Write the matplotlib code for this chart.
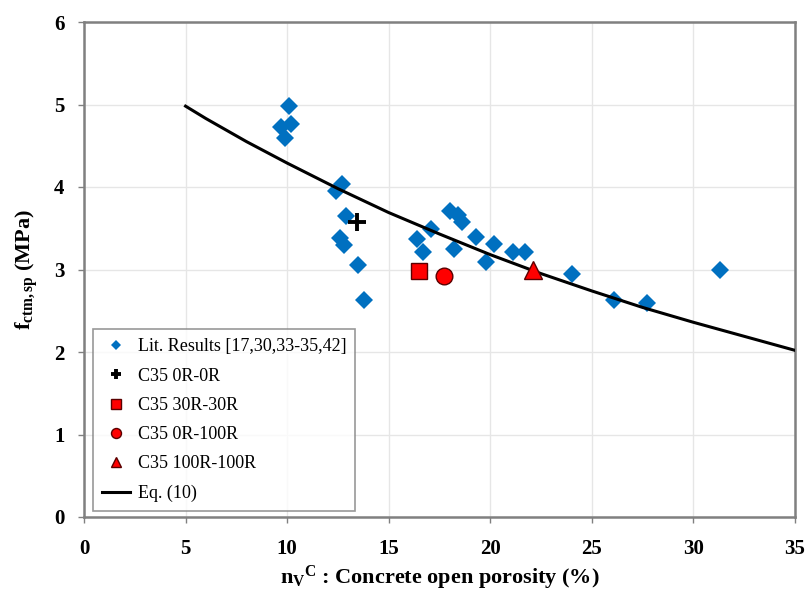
import matplotlib.pyplot as plt
import numpy as np

plt.rcParams['font.family'] = ['Liberation Serif', 'DejaVu Serif']
plt.rcParams['mathtext.fontset'] = 'custom'
plt.rcParams['mathtext.rm'] = 'Liberation Serif'
plt.rcParams['mathtext.it'] = 'Liberation Serif:italic'
plt.rcParams['mathtext.bf'] = 'Liberation Serif:bold'

# literature results (open porosity %, splitting tensile strength MPa)
lit_x = [10.1, 9.7, 10.2, 9.9, 12.4, 12.7, 12.9, 12.6, 12.8, 13.5, 13.8,
         16.4, 16.7, 17.1, 18.0, 18.4, 18.6, 18.2, 19.3, 19.8, 20.2,
         21.1, 21.7, 24.0, 26.1, 27.7, 31.3]
lit_y = [4.98, 4.73, 4.76, 4.60, 3.95, 4.04, 3.65, 3.38, 3.30, 3.05, 2.63,
         3.37, 3.21, 3.49, 3.71, 3.66, 3.58, 3.25, 3.40, 3.09, 3.31,
         3.21, 3.21, 2.95, 2.63, 2.60, 2.99]

# this study
c_00 = (13.45, 3.58)
c_30 = (16.5, 2.98)
c_0100 = (17.7, 2.92)
c_100100 = (22.1, 2.99)

# Eq. (10) curve
eq_x = [5, 6, 7, 8, 9, 10, 12.5, 15, 17.5, 20, 22.5, 25, 27.5, 30, 32.5, 35]
eq_y = [4.98, 4.83, 4.69, 4.55, 4.42, 4.29, 3.98, 3.69, 3.43, 3.18, 2.95,
        2.74, 2.54, 2.36, 2.19, 2.02]

fig = plt.figure(figsize=(8.06, 6.01), dpi=100)
ax = fig.add_axes([84 / 806, 84 / 601, 711 / 806, 495 / 601])

ax.plot(lit_x, lit_y, 'D', color='#0070C0', markersize=9.3, markeredgewidth=0,
        label='Lit. Results [17,30,33-35,42]', zorder=3)
ax.plot(*c_00, '+', color='black', markersize=13, markeredgewidth=2.8,
        label='C35 0R-0R', zorder=5)
ax.plot(*c_30, 's', color='#FF0000', markeredgecolor='#5a0000', markeredgewidth=1,
        markersize=11, label='C35 30R-30R', zorder=5)
ax.plot(*c_0100, 'o', color='#FF0000', markeredgecolor='#5a0000', markeredgewidth=1,
        markersize=12, label='C35 0R-100R', zorder=5)
ax.plot(*c_100100, '^', color='#FF0000', markeredgecolor='#5a0000', markeredgewidth=1,
        markersize=13, label='C35 100R-100R', zorder=5)
ax.plot(eq_x, eq_y, '-', color='black', linewidth=2.2, label='Eq. (10)', zorder=4)

ax.set_xlim(0, 35)
ax.set_ylim(0, 6)
ax.set_xticks(np.arange(0, 36, 5))
ax.set_yticks(np.arange(0, 7, 1))
ax.grid(True, color='#e6e6e6', linewidth=1)
ax.set_axisbelow(True)
for s in ax.spines.values():
    s.set_color('#808080')
    s.set_linewidth(1.8)
ax.tick_params(direction='out', length=4, width=1, color='#808080',
               labelsize=15, pad=10)
ax.tick_params(axis='x', pad=12)
for lab in ax.get_xticklabels() + ax.get_yticklabels():
    lab.set_fontweight('bold')

ax.set_xlabel(r'$\mathbf{n_{V}}^{\mathbf{C}}$ : Concrete open porosity (%)',
              fontsize=16, fontweight='bold', labelpad=3)
ax.set_ylabel(r'$\mathbf{f_{ctm,sp}}$ (MPa)', fontsize=16, fontweight='bold', labelpad=10)

leg = ax.legend(loc='lower left', fontsize=13, markerscale=0.6, handlelength=1.6,
                handletextpad=0.4, labelspacing=0.68, borderpad=0.5,
                frameon=True, fancybox=False, edgecolor='#7f7f7f',
                bbox_to_anchor=(0.012, 0.012), borderaxespad=0)
leg.get_frame().set_linewidth(1.2)

fig.savefig('out.png', dpi=100)
